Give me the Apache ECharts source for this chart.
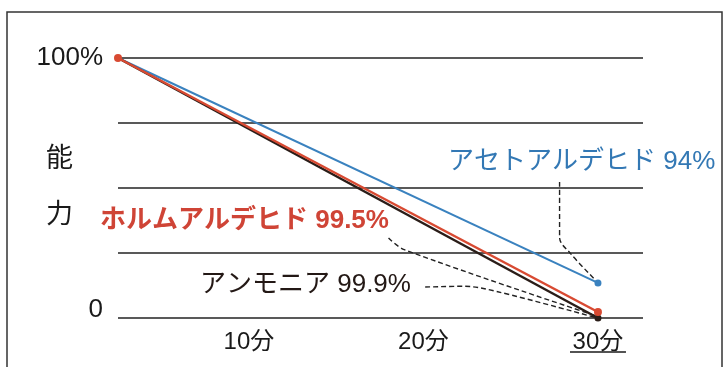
<!DOCTYPE html>
<html>
<head>
<meta charset="utf-8">
<script src="https://cdn.jsdelivr.net/npm/echarts@6/dist/echarts.min.js"></script>
<style>
  html, body { margin: 0; padding: 0; background: #fff; }
  #chart { width: 724px; height: 367px; }
</style>
</head>
<body>
<div id="chart"></div>
<script>
// time in minutes (the first point sits a little right of the origin in the picture)
const times = [2.5, 30]
const acetaldehyde = [100, 13.5]
const formaldehyde = [100, 2.3]
const ammonia = [100, 0]

const xTickValues = [10, 20, 30]
const yTickValues = [0, 25, 50, 75, 100]

// dashed leader lines, in [minutes, %]
const acetLeader = [[27.8, 52.3], [27.8, 31.0], [28.4, 25.0], [29.9, 14.3]]
const formLeader = [[18.0, 30.8], [18.9, 26.3], [30.0, 0.6]]
const ammoLeader = [[20.1, 11.9], [22.3, 12.2], [24.2, 10.2], [29.9, 0.1]]

const labelTexts = {
  acet: 'アセトアルデヒド 94%',
  form: 'ホルムアルデヒド 99.5%',
  ammo: 'アンモニア 99.9%'
}

const FONT = "'Liberation Sans', 'Noto Sans CJK JP', sans-serif"

const pairs = (ys) => times.map((t, i) => [t, ys[i]])

const chart = echarts.init(document.getElementById('chart'))

const leader = (data) => ({
  type: 'line',
  data: data,
  smooth: 0.35,
  symbol: 'none',
  silent: true,
  lineStyle: { color: '#222', width: 1.4, type: [5, 3] },
  z: 1
})

const option = {
  animation: false,
  backgroundColor: '#fff',
  grid: { left: 118, right: 81, top: 58, bottom: 49 },
  xAxis: {
    type: 'value',
    min: 2.5,
    max: 32.58,
    axisLine: { show: false },
    axisTick: { show: false },
    splitLine: { show: false },
    axisLabel: {
      customValues: xTickValues,
      margin: 12,
      fontSize: 24,
      color: '#1a1a1a',
      fontFamily: FONT,
      formatter: (v) => v + '分'
    }
  },
  yAxis: {
    type: 'value',
    min: 0,
    max: 100,
    interval: 25,
    name: '能\n力',
    nameLocation: 'middle',
    nameRotate: 0,
    nameGap: 45,
    nameMoveOverlap: false,
    nameTextStyle: {
      fontSize: 27,
      lineHeight: 56,
      color: '#1a1a1a',
      fontFamily: FONT,
      padding: [0, 0, 20, 0]
    },
    axisLine: { show: false },
    axisTick: { show: false },
    splitLine: { lineStyle: { color: '#222', width: 1.5 } },
    axisLabel: {
      margin: 15,
      fontSize: 26,
      color: '#1a1a1a',
      fontFamily: FONT,
      formatter: (v) => (v === 100 ? '100%' : v === 0 ? '{z|0}' : ''),
      rich: { z: { fontSize: 26, fontFamily: FONT, color: '#1a1a1a', padding: [0, 0, 16, 0] } }
    }
  },
  series: [
    leader(acetLeader),
    leader(formLeader),
    leader(ammoLeader),
    {
      name: 'アセトアルデヒド',
      type: 'line',
      data: pairs(acetaldehyde),
      symbol: 'circle',
      symbolSize: (val, p) => (p.dataIndex === 0 ? 0 : 7),
      itemStyle: { color: '#3a82bf' },
      lineStyle: { color: '#3a82bf', width: 2 },
      z: 2
    },
    {
      name: 'アンモニア',
      type: 'line',
      data: pairs(ammonia),
      symbol: 'circle',
      symbolSize: (val, p) => (p.dataIndex === 0 ? 0 : 7),
      itemStyle: { color: '#2a1d18' },
      lineStyle: { color: '#2a1d18', width: 2.5 },
      z: 3
    },
    {
      name: 'ホルムアルデヒド',
      type: 'line',
      data: pairs(formaldehyde),
      symbol: 'circle',
      symbolSize: 8,
      itemStyle: { color: '#d84a32' },
      lineStyle: { color: '#d84a32', width: 2.5 },
      z: 4
    }
  ],
  graphic: [
    {
      id: 'frame',
      type: 'rect',
      shape: { x: 7, y: 12, width: 715, height: 400 },
      style: { fill: 'none', stroke: '#333', lineWidth: 1.5 },
      silent: true
    },
    {
      id: 'acetText',
      type: 'text', left: 448, top: 149,
      style: { text: labelTexts.acet, fill: '#3378b4', fontSize: 26, fontFamily: FONT }
    },
    {
      id: 'formText',
      type: 'text', left: 100, top: 208,
      style: { text: labelTexts.form, fill: '#cf4436', fontSize: 26, fontFamily: FONT, fontWeight: 'bold' }
    },
    {
      id: 'ammoText',
      type: 'text', left: 200, top: 272,
      style: { text: labelTexts.ammo, fill: '#231815', fontSize: 26, fontFamily: FONT }
    }
  ]
}

chart.setOption(option)

// underline under the last tick label
const p30 = chart.convertToPixel({ gridIndex: 0 }, [30, 0])
chart.setOption({
  graphic: [{
    id: 'underline30',
    type: 'line',
    shape: { x1: p30[0] - 28, y1: p30[1] + 34, x2: p30[0] + 28, y2: p30[1] + 34 },
    style: { stroke: '#1a1a1a', lineWidth: 1.5 },
    silent: true
  }]
})
</script>
</body>
</html>
